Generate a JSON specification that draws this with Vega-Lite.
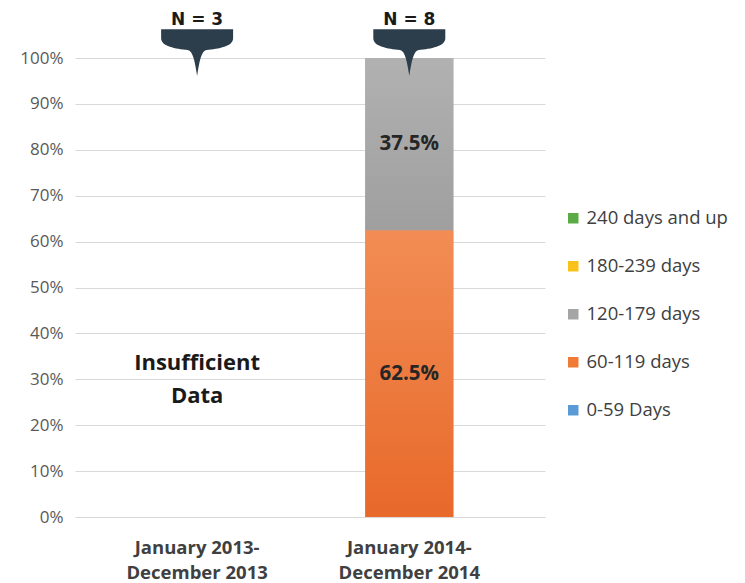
{
  "$schema": "https://vega.github.io/schema/vega-lite/v6.json",
  "width": 470,
  "height": 459,
  "autosize": "none",
  "padding": {"left": 75, "top": 58, "right": 200, "bottom": 66},
  "background": "white",
  "config": {"view": {"stroke": null}, "font": "Open Sans"},
  "datasets": {
    "bars": [
      {"period": "January 2014-December 2014", "range": "60-119 days", "value": 0.625},
      {"period": "January 2014-December 2014", "range": "120-179 days", "value": 0.375}
    ],
    "n": [
      {"period": "January 2013-December 2013", "label": "N = 3"},
      {"period": "January 2014-December 2014", "label": "N = 8"}
    ],
    "note": [
      {"period": "January 2013-December 2013", "text": "Insufficient Data"}
    ]
  },
  "layer": [
    {
      "data": {"name": "bars"},
      "mark": {"type": "bar"},
      "encoding": {
        "x": {
          "field": "period", "type": "nominal",
          "scale": {"domain": ["January 2013-December 2013", "January 2014-December 2014"], "paddingInner": 0.585, "paddingOuter": 0.4, "align": 0.46},
          "axis": {"title": null, "labelAngle": 0, "labelFontSize": 18.5, "labelFontWeight": "bold", "labelColor": "#404040", "ticks": false, "domain": true, "domainColor": "#d9d9d9", "labelPadding": 21, "labelLineHeight": 25, "labelExpr": "[slice(datum.label,0,13), slice(datum.label,13)]"}
        },
        "y": {
          "field": "value", "type": "quantitative", "stack": "zero",
          "scale": {"domain": [0, 1], "nice": false},
          "axis": {"title": null, "format": ".0%", "values": [0, 0.1, 0.2, 0.3, 0.4, 0.5, 0.6, 0.7, 0.8, 0.9, 1], "grid": true, "gridColor": "#d9d9d9", "domain": false, "ticks": false, "labelFontSize": 17, "labelColor": "#595959", "labelPadding": 12}
        },
        "color": {
          "field": "range", "type": "nominal",
          "scale": {
            "domain": ["240 days and up", "180-239 days", "120-179 days", "60-119 days", "0-59 Days"],
            "range": ["#5aab46", "#f8c21a", "#a5a5a5", "#ef7b35", "#5b9bd5"]
          },
          "legend": {"title": null, "orient": "none", "legendX": 489, "legendY": 151, "symbolType": "square", "symbolSize": 110, "symbolStrokeWidth": 0, "labelFontSize": 18.5, "labelColor": "#404040", "rowPadding": 29, "labelOffset": 4}
        },
        "order": {"field": "range", "sort": "descending"}
      }
    },
    {
      "data": {"name": "bars"},
      "mark": {"type": "bar"},
      "encoding": {
        "x": {"field": "period", "type": "nominal"},
        "y": {"field": "value", "type": "quantitative", "stack": "zero"},
        "detail": {"field": "range"},
        "order": {"field": "range", "sort": "descending"},
        "fill": {
          "condition": {"test": "datum.range === '60-119 days'", "value": {"gradient": "linear", "x1": 0, "y1": 0, "x2": 0, "y2": 1, "stops": [{"offset": 0, "color": "#f28d55"}, {"offset": 1, "color": "#e8692a"}]}},
          "value": {"gradient": "linear", "x1": 0, "y1": 0, "x2": 0, "y2": 1, "stops": [{"offset": 0, "color": "#b1b1b1"}, {"offset": 1, "color": "#9f9f9f"}]}
        }
      }
    },
    {
      "data": {"name": "bars"},
      "mark": {"type": "text", "fontSize": 20.5, "fontWeight": "bold", "color": "#262626"},
      "encoding": {
        "x": {"field": "period", "type": "nominal"},
        "y": {"field": "value", "type": "quantitative", "stack": "zero", "bandPosition": 0.5},
        "detail": {"field": "range"},
        "order": {"field": "range", "sort": "descending"},
        "text": {"field": "value", "type": "quantitative", "format": ".1%"}
      }
    },
    {
      "data": {"name": "note"},
      "mark": {"type": "text", "fontSize": 22, "fontWeight": "bold", "color": "#1a1a1a", "lineHeight": 33, "dy": -16},
      "encoding": {
        "x": {"field": "period", "type": "nominal"},
        "y": {"datum": 0.3},
        "text": {"value": ["Insufficient", "Data"]}
      }
    },
    {
      "data": {"name": "n"},
      "mark": {"type": "point", "filled": true, "size": 5184, "opacity": 1, "color": "#2c3e4c", "strokeWidth": 0,
        "shape": "M-1,-0.8 L1,-0.8 L1,-0.55 C1,-0.32 0.6,-0.26 0.26,-0.22 C0.12,-0.2 0.06,0.1 0,0.5 C-0.06,0.1 -0.12,-0.2 -0.26,-0.22 C-0.6,-0.26 -1,-0.32 -1,-0.55 Z"},
      "encoding": {
        "x": {"field": "period", "type": "nominal"},
        "y": {"datum": 1}
      }
    },
    {
      "data": {"name": "n"},
      "mark": {"type": "text", "font": "DejaVu Sans", "fontSize": 17, "fontWeight": "bold", "color": "#1a1a1a", "dy": -33, "baseline": "alphabetic"},
      "encoding": {
        "x": {"field": "period", "type": "nominal"},
        "y": {"datum": 1},
        "text": {"field": "label"}
      }
    }
  ]
}
